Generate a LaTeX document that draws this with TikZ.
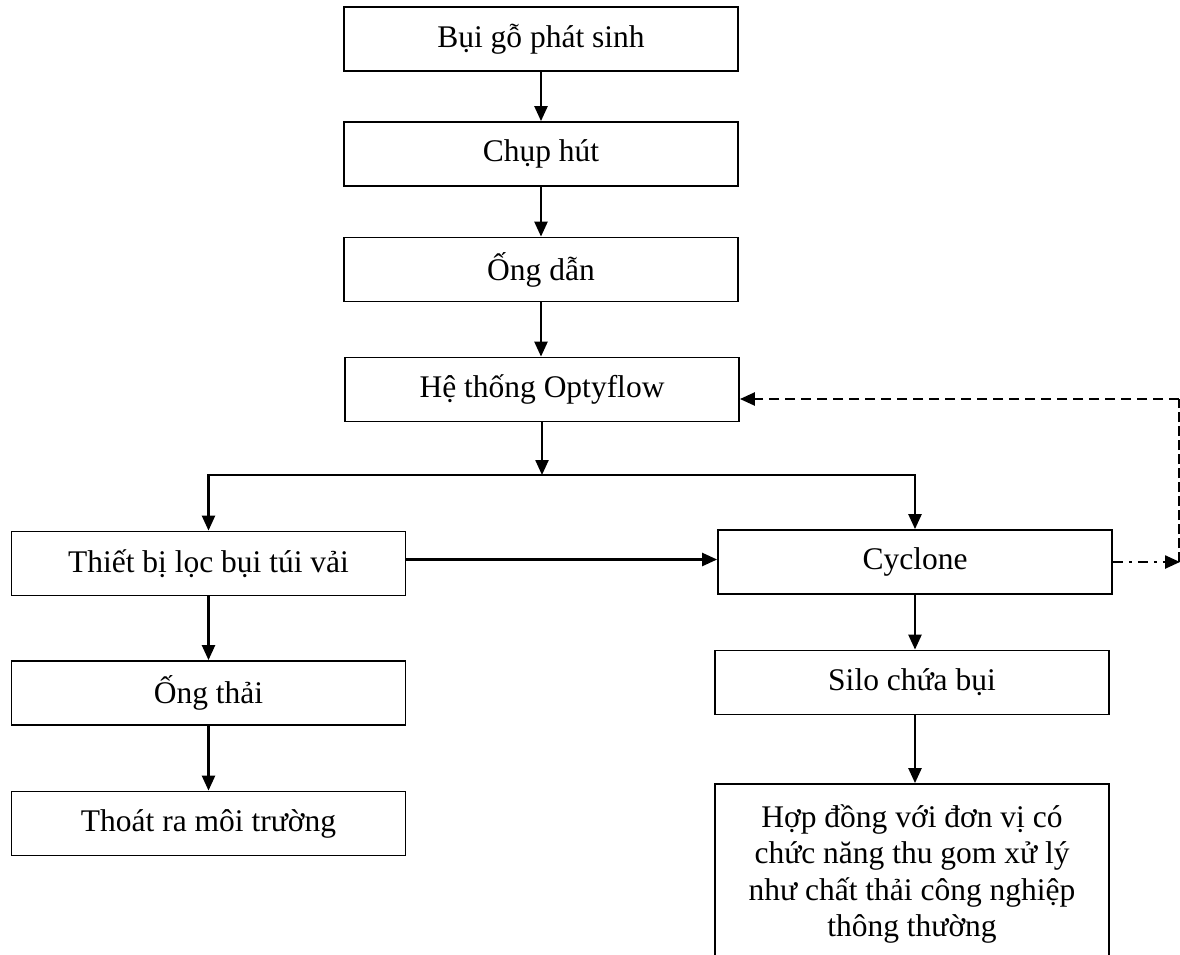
\documentclass[tikz,border=0pt]{standalone}
\usepackage{fontspec}
\setmainfont{Liberation Serif}
\usetikzlibrary{arrows.meta}
\begin{document}
\begin{tikzpicture}[x=1pt,y=1pt,
  box/.style={draw, line width=1.8pt, minimum width=394pt, minimum height=64pt,
    inner sep=0pt, align=center, font=\fontsize{31.5}{36.5}\selectfont},
  flow/.style={line width=2.4pt, -{Triangle[length=15pt,width=13pt]}},
  link/.style={line width=2.4pt, line cap=rect},
  back/.style={line width=2.4pt, dash pattern=on 10pt off 6pt, -{Triangle[length=15pt,width=13pt]}},
  backline/.style={line width=1.4pt, dash pattern=on 10pt off 4pt},
  dashdot/.style={line width=2.4pt, dash pattern=on 10pt off 6pt on 3pt off 6pt, -{Triangle[length=15pt,width=13pt]}}]
\useasboundingbox (0,0) rectangle (1180,-954);
\clip (0,0) rectangle (1180,-954);

% main column
\node[box] (src)  at (541,-39)    {Bụi gỗ phát sinh};
\node[box] (hood) at (541,-154)   {Chụp hút};
\node[box] (duct) at (541,-269.5) {Ống dẫn};
\node[box] (opt)  at (542,-389.5) {Hệ thống Optyflow};

% left branch
\node[box] (bag)  at (208.5,-563.5) {Thiết bị lọc bụi túi vải};
\node[box] (stack) at (208.5,-693)  {Ống thải};
\node[box] (env)  at (208.5,-823.5) {Thoát ra môi trường};

% right branch
\node[box] (cyc)  at (915,-562)   {Cyclone};
\node[box] (silo) at (912,-682.5) {Silo chứa bụi};
\node[box, minimum height=180pt] (contract) at (912,-874)
  {Hợp đồng với đơn vị có\\chức năng thu gom xử lý\\như chất thải công nghiệp\\thông thường};

% split point and return route
\coordinate (split) at (542,-475);
\coordinate (ret) at (1179,-562);
\coordinate (optin) at ([yshift=-9.5pt]opt.east);
\coordinate (corner) at (ret |- optin);

\draw[flow] (src) -- (hood);
\draw[flow] (hood) -- (duct);
\draw[flow] (duct.south) -- (duct.south |- opt.north);
\draw[flow] (opt) -- (split);
\draw[link] (split -| bag.north) -- (split -| cyc.north);
\draw[flow] (split -| bag.north) -- (bag.north);
\draw[flow] (split -| cyc.north) -- (cyc.north);
\draw[flow] ([yshift=4pt]bag.east) -- ([yshift=4pt]bag.east -| cyc.west);
\draw[flow] (bag) -- (stack);
\draw[flow] (stack) -- (env);
\draw[flow] (cyc.south) -- (cyc.south |- silo.north);
\draw[flow] (cyc.south |- silo.south) -- (cyc.south |- contract.north);

% recirculation back to the Optyflow system
\draw[dashdot] (cyc.east) -- ([xshift=1pt]ret);
\draw[backline] (ret) -- (corner);
\draw[back] (corner) -- (optin);
\end{tikzpicture}
\end{document}
